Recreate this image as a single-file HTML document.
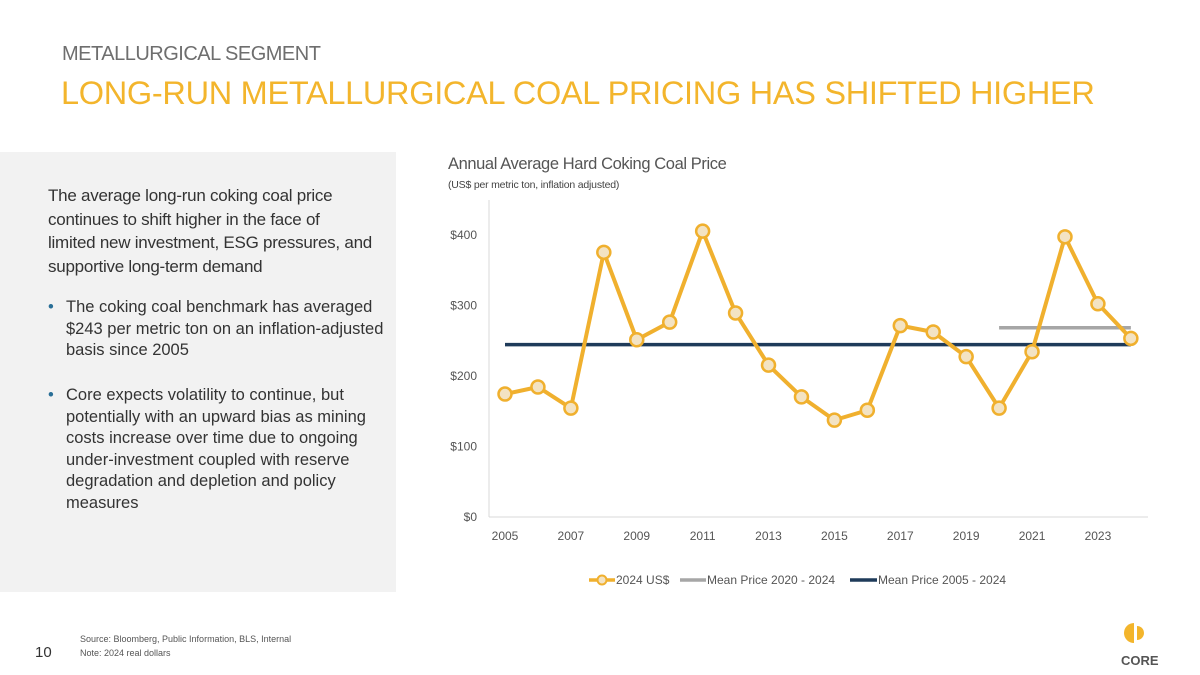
<!DOCTYPE html>
<html><head><meta charset="utf-8"><style>
body{margin:0;width:1200px;height:675px;background:#fff;font-family:"Liberation Sans",sans-serif;position:relative;overflow:hidden}
.a{position:absolute}
</style></head><body>
<div class="a" style="left:62px;top:43px;font-size:20px;letter-spacing:-0.5px;color:#6e6e6e">METALLURGICAL SEGMENT</div>
<div class="a" style="left:61px;top:75px;font-size:32.5px;letter-spacing:-0.3px;color:#F3B52C">LONG-RUN METALLURGICAL COAL PRICING HAS SHIFTED HIGHER</div>
<div class="a" style="left:0;top:152px;width:396px;height:440px;background:#f2f2f2"></div>
<div class="a" style="left:48px;top:184px;width:345px;font-size:17px;letter-spacing:-0.25px;line-height:23.5px;color:#333;white-space:nowrap">The average long-run coking coal price<br>continues to shift higher in the face of<br>limited new investment, ESG pressures, and<br>supportive long-term demand</div>
<div class="a" style="left:48px;top:297px;width:320px;font-size:16.5px;line-height:21.5px;color:#333;padding-left:18px"><span style="position:absolute;left:0;color:#2a6f97">•</span>The coking coal benchmark has averaged $243 per metric ton on an inflation-adjusted basis since 2005</div>
<div class="a" style="left:48px;top:385px;width:320px;font-size:16.5px;line-height:21.5px;color:#333;padding-left:18px"><span style="position:absolute;left:0;color:#2a6f97">•</span>Core expects volatility to continue, but potentially with an upward bias as mining costs increase over time due to ongoing under-investment coupled with reserve degradation and depletion and policy measures</div>
<div class="a" style="left:80px;top:633px;font-size:9px;color:#555;line-height:13.5px">Source: Bloomberg, Public Information, BLS, Internal<br>Note: 2024 real dollars</div>
<div class="a" style="left:35px;top:644px;font-size:15px;color:#333">10</div>
<svg class="a" style="left:1110px;top:620px" width="60" height="50">
<path d="M24 3 A10 10 0 0 0 24 23 Z" fill="#F3B52C"/><path d="M27 6 A7 7 0 0 1 27 20 Z" fill="#F3B52C"/>
<text x="11" y="45" font-size="13" font-weight="bold" fill="#555">CORE</text></svg>
<div class="a" style="left:448px;top:155px;font-size:16.5px;letter-spacing:-0.4px;color:#555">Annual Average Hard Coking Coal Price</div>
<div class="a" style="left:448px;top:179px;font-size:10.5px;letter-spacing:-0.2px;color:#444">(US$ per metric ton, inflation adjusted)</div>
<svg id="c" class="a" style="left:0;top:0" width="1200" height="675"></svg>
<script>
const years=[2005,2006,2007,2008,2009,2010,2011,2012,2013,2014,2015,2016,2017,2018,2019,2020,2021,2022,2023,2024];
const prices=[173,183,153,374,250,275,404,288,214,169,136,150,270,261,226,153,233,396,301,252];
const mean20=267, mean05=243;
const yTicks=[0,100,200,300,400];
const xTicks=[2005,2007,2009,2011,2013,2015,2017,2019,2021,2023];
const X=y=>505+(y-2005)*32.94, Y=v=>516-v*0.705;
const s=document.getElementById('c'),ns='http://www.w3.org/2000/svg';
function el(t,a,txt){const e=document.createElementNS(ns,t);for(const k in a)e.setAttribute(k,a[k]);if(txt!=null)e.textContent=txt;s.appendChild(e);return e;}
let e=el('line',{x1:489,x2:489,y1:200,y2:517,stroke:'#d9d9d9'});

e=el('line',{x1:489,x2:1148,y1:517,y2:517,stroke:'#d9d9d9'});

yTicks.forEach(v=>{const t=el('text',{x:477,y:Y(v)+5,'text-anchor':'end','font-size':12,fill:'#555'},'$'+v);
});
xTicks.forEach(v=>{const t=el('text',{x:X(v),y:540,'text-anchor':'middle','font-size':12,fill:'#555'},v);
});
e=el('line',{x1:X(2005),x2:X(2024),y1:Y(mean05),y2:Y(mean05),stroke:'#1F3B5A','stroke-width':3.5});

e=el('line',{x1:X(2020),x2:X(2024),y1:Y(mean20),y2:Y(mean20),stroke:'#A6A6A6','stroke-width':3.5});

e=el('polyline',{points:years.map((y,i)=>X(y)+','+Y(prices[i])).join(' '),fill:'none',stroke:'#F0B02E','stroke-width':4,'stroke-linejoin':'round'});

years.forEach((y,i)=>{const c=el('circle',{cx:X(y),cy:Y(prices[i]),r:6.5,fill:'#F3E3C3',stroke:'#F0B02E','stroke-width':2.5});
});
e=el('line',{x1:589,x2:615,y1:580,y2:580,stroke:'#F0B02E','stroke-width':3.5});

e=el('circle',{cx:602,cy:580,r:4.5,fill:'#F3E3C3',stroke:'#F0B02E','stroke-width':2});

e=el('text',{x:616,y:584,'font-size':12,fill:'#555'},'2024 US$');

e=el('line',{x1:680,x2:706,y1:580,y2:580,stroke:'#A6A6A6','stroke-width':3.5});

e=el('text',{x:707,y:584,'font-size':12,fill:'#555'},'Mean Price 2020 - 2024');

e=el('line',{x1:850,x2:877,y1:580,y2:580,stroke:'#1F3B5A','stroke-width':3.5});

e=el('text',{x:878,y:584,'font-size':12,fill:'#555'},'Mean Price 2005 - 2024');

</script>
</body></html>
